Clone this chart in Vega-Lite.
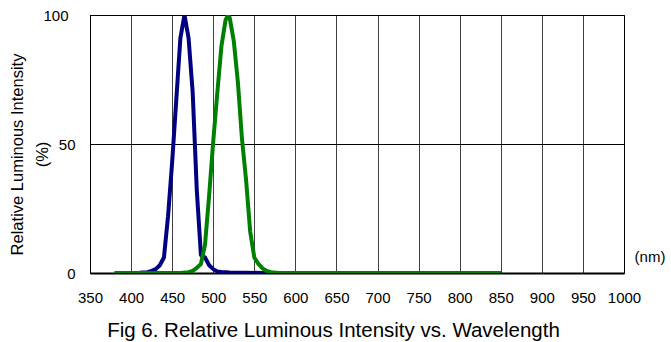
{
  "$schema": "https://vega.github.io/schema/vega-lite/v6.json",
  "autosize": {"type": "none"},
  "padding": {"left": 90, "top": 15, "right": 47, "bottom": 69},
  "width": 534,
  "height": 258,
  "background": "white",
  "config": {
    "font": "Liberation Sans",
    "view": {"stroke": "#000", "strokeWidth": 1},
    "axis": {"labelFont": "Liberation Sans", "titleFont": "Liberation Sans", "labelColor": "#000", "titleColor": "#000", "titleFontWeight": "normal"}
  },
  "title": {
    "text": "Fig 6. Relative Luminous Intensity vs. Wavelength",
    "orient": "bottom",
    "anchor": "middle",
    "frame": "group",
    "font": "Liberation Sans",
    "fontSize": 20.5,
    "fontWeight": "normal",
    "color": "#000",
    "dx": -23.5,
    "offset": 16
  },
  "data": {
    "values": [
      {"wl": 380, "val": 0, "series": "blue"},
      {"wl": 400, "val": 0, "series": "blue"},
      {"wl": 410, "val": 0.1, "series": "blue"},
      {"wl": 420, "val": 0.3, "series": "blue"},
      {"wl": 425, "val": 0.8, "series": "blue"},
      {"wl": 430, "val": 1.5, "series": "blue"},
      {"wl": 435, "val": 3, "series": "blue"},
      {"wl": 440, "val": 6, "series": "blue"},
      {"wl": 445, "val": 22, "series": "blue"},
      {"wl": 450, "val": 43, "series": "blue"},
      {"wl": 455, "val": 67, "series": "blue"},
      {"wl": 460, "val": 91, "series": "blue"},
      {"wl": 465, "val": 100, "series": "blue"},
      {"wl": 470, "val": 91, "series": "blue"},
      {"wl": 475, "val": 70, "series": "blue"},
      {"wl": 480, "val": 32, "series": "blue"},
      {"wl": 485, "val": 7, "series": "blue"},
      {"wl": 490, "val": 6, "series": "blue"},
      {"wl": 495, "val": 3, "series": "blue"},
      {"wl": 500, "val": 1.5, "series": "blue"},
      {"wl": 505, "val": 0.6, "series": "blue"},
      {"wl": 510, "val": 0.4, "series": "blue"},
      {"wl": 520, "val": 0.2, "series": "blue"},
      {"wl": 540, "val": 0.1, "series": "blue"},
      {"wl": 560, "val": 0, "series": "blue"},
      {"wl": 850, "val": 0, "series": "blue"},
      {"wl": 380, "val": 0, "series": "green"},
      {"wl": 460, "val": 0, "series": "green"},
      {"wl": 470, "val": 0.3, "series": "green"},
      {"wl": 475, "val": 0.8, "series": "green"},
      {"wl": 480, "val": 2, "series": "green"},
      {"wl": 485, "val": 3.5, "series": "green"},
      {"wl": 490, "val": 11, "series": "green"},
      {"wl": 495, "val": 30, "series": "green"},
      {"wl": 500, "val": 51, "series": "green"},
      {"wl": 505, "val": 70, "series": "green"},
      {"wl": 510, "val": 88, "series": "green"},
      {"wl": 515, "val": 98, "series": "green"},
      {"wl": 518, "val": 100, "series": "green"},
      {"wl": 520, "val": 99, "series": "green"},
      {"wl": 525, "val": 90, "series": "green"},
      {"wl": 530, "val": 74, "series": "green"},
      {"wl": 535, "val": 52, "series": "green"},
      {"wl": 540, "val": 36, "series": "green"},
      {"wl": 545, "val": 16, "series": "green"},
      {"wl": 550, "val": 6, "series": "green"},
      {"wl": 555, "val": 3.5, "series": "green"},
      {"wl": 560, "val": 1.8, "series": "green"},
      {"wl": 565, "val": 0.8, "series": "green"},
      {"wl": 570, "val": 0.3, "series": "green"},
      {"wl": 580, "val": 0, "series": "green"},
      {"wl": 850, "val": 0, "series": "green"}
    ]
  },
  "mark": {"type": "line", "strokeWidth": 4, "strokeJoin": "round", "clip": true},
  "encoding": {
    "x": {
      "field": "wl",
      "type": "quantitative",
      "scale": {"domain": [350, 1000], "nice": false, "zero": false},
      "axis": {
        "values": [350, 400, 450, 500, 550, 600, 650, 700, 750, 800, 850, 900, 950, 1000],
        "format": "d",
        "title": "(nm)",
        "titleFontSize": 15,
        "titleX": 559.5,
        "titleY": -17,
        "titleAngle": 0,
        "titleAlign": "center",
        "titleBaseline": "middle",
        "labelFontSize": 15,
        "labelPadding": 17,
        "labelFlush": false,
        "labelOverlap": false,
        "ticks": false,
        "domainColor": "#000",
        "domainWidth": 2,
        "grid": true,
        "gridColor": "#000",
        "gridOpacity": 0.75,
        "gridWidth": 1
      }
    },
    "y": {
      "field": "val",
      "type": "quantitative",
      "scale": {"domain": [0, 100], "nice": false},
      "axis": {
        "values": [0, 50, 100],
        "title": ["Relative Luminous Intensity", "(%)"],
        "titleFontSize": 16.5,
        "titleLineHeight": 25,
        "titleX": -72.5,
        "titleY": 139,
        "titleAngle": -90,
        "titleAlign": "center",
        "titleBaseline": "middle",
        "labelFontSize": 15,
        "labelPadding": {"condition": {"test": "datum.value == 100", "value": 22}, "value": 15},
        "labelFlush": false,
        "labelOverlap": false,
        "ticks": false,
        "domainColor": "#000",
        "domainWidth": 1,
        "grid": true,
        "gridColor": "#000",
        "gridWidth": 1
      }
    },
    "color": {
      "field": "series",
      "type": "nominal",
      "scale": {"domain": ["blue", "green"], "range": ["#000080", "#008000"]},
      "legend": null
    }
  }
}
